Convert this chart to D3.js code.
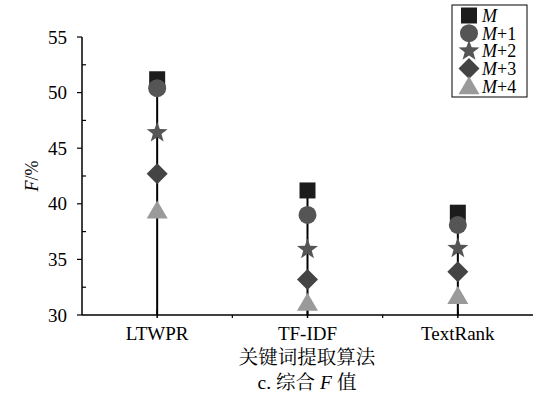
<!DOCTYPE html>
<html><head><meta charset="utf-8">
<script src="https://cdn.jsdelivr.net/npm/d3@7"></script>
<style>body{margin:0;background:#fff}svg{display:block}</style>
</head><body>
<svg id="c" width="534" height="398" font-family="'Liberation Serif','Times New Roman',serif"></svg>
<script>
const categories = ["LTWPR", "TF-IDF", "TextRank"];
const seriesNames = ["M", "M+1", "M+2", "M+3", "M+4"];
const sM  = [51.2, 41.2, 39.2];
const sM1 = [50.4, 39.0, 38.1];
const sM2 = [46.4, 35.9, 36.0];
const sM3 = [42.7, 33.2, 33.9];
const sM4 = [39.4, 31.1, 31.7];
const yTicks = [30, 35, 40, 45, 50, 55];
const series = [sM, sM1, sM2, sM3, sM4];
const colors = ["#1c1c1c", "#555555", "#555555", "#444444", "#9a9a9a"];
const CJK = "'Noto Serif CJK SC','Noto Sans CJK SC',sans-serif";

function starPath(ro, ri) {
  const pts = d3.range(10).map(i => {
    const a = -Math.PI / 2 + i * Math.PI / 5, r = i % 2 ? ri : ro;
    return [r * Math.cos(a), r * Math.sin(a)];
  });
  return "M" + pts.map(p => p.join(",")).join("L") + "Z";
}
const markers = [
  "M-8,-8H8V8H-8Z",
  d3.symbol().type(d3.symbolCircle).size(Math.PI * 81)(),
  starPath(11, 4.5),
  "M0,-10.5L10.5,0L0,10.5L-10.5,0Z",
  "M0,-10L10.5,8H-10.5Z"
];

const svg = d3.select("#c");
const L = 82, R = 533, T = 37, B = 315;
const x = d3.scaleBand().domain(categories).range([L, R]);
const y = d3.scaleLinear().domain([30, 55]).range([B, T]);

// y axis
svg.append("line").attr("x1", L).attr("x2", L).attr("y1", y(55)).attr("y2", B).attr("stroke", "#000").attr("stroke-width", 1.5);
d3.range(30, 55.01, 2.5).forEach(v => {
  const major = yTicks.includes(v);
  svg.append("line").attr("x1", major ? L - 5 : L).attr("x2", major ? L : L + 4)
    .attr("y1", y(v)).attr("y2", y(v)).attr("stroke", "#000").attr("stroke-width", 1.2);
});
yTicks.forEach(v => {
  svg.append("text").attr("x", L - 15).attr("y", y(v)).attr("dy", "0.35em")
    .attr("text-anchor", "end").attr("font-size", 19).text(v);
});
// x axis
svg.append("line").attr("x1", L).attr("x2", R).attr("y1", B).attr("y2", B).attr("stroke", "#000").attr("stroke-width", 1.5);
categories.forEach(c => {
  const cx = x(c) + x.bandwidth() / 2;
  svg.append("line").attr("x1", cx).attr("x2", cx).attr("y1", B - 5).attr("y2", B + 3).attr("stroke", "#000").attr("stroke-width", 1.5);
  svg.append("text").attr("x", cx).attr("y", B + 25).attr("text-anchor", "middle").attr("font-size", 19).text(c);
});
categories.slice(1).forEach(c => {
  svg.append("line").attr("x1", x(c)).attr("x2", x(c)).attr("y1", B).attr("y2", B + 3).attr("stroke", "#000").attr("stroke-width", 1.2);
});

// stems
categories.forEach((c, i) => {
  const cx = x(c) + x.bandwidth() / 2;
  const top = d3.max(series, s => s[i]);
  svg.append("line").attr("x1", cx).attr("x2", cx).attr("y1", y(30)).attr("y2", y(top)).attr("stroke", "#000").attr("stroke-width", 2);
});
// markers
series.forEach((s, k) => {
  svg.selectAll(null).data(s).enter().append("path")
    .attr("d", markers[k])
    .attr("transform", (d, i) => `translate(${x(categories[i]) + x.bandwidth() / 2},${y(d)})`)
    .attr("fill", colors[k]);
});

// labels
const yl = svg.append("text").attr("transform", "translate(38,176) rotate(-90)").attr("text-anchor", "middle").attr("font-size", 18);
yl.append("tspan").attr("font-style", "italic").text("F");
yl.append("tspan").text("/%");
svg.append("text").attr("x", 307).attr("y", 364).attr("text-anchor", "middle").attr("font-size", 19.5)
  .attr("font-family", CJK).text("关键词提取算法");
const cap = svg.append("text").attr("x", 307).attr("y", 389).attr("text-anchor", "middle").attr("font-size", 19.5);
cap.append("tspan").text("c. ");
cap.append("tspan").attr("font-family", CJK).text("综合 ");
cap.append("tspan").attr("font-style", "italic").text("F");
cap.append("tspan").attr("font-family", CJK).text(" 值");

// legend
const lg = svg.append("g");
lg.append("rect").attr("x", 452).attr("y", 5).attr("width", 75).attr("height", 92).attr("fill", "#fff").attr("stroke", "#000").attr("stroke-width", 1);
seriesNames.forEach((n, k) => {
  const ly = 15.5 + k * 17.7;
  lg.append("path").attr("d", markers[k]).attr("transform", `translate(469,${ly})`).attr("fill", colors[k]);
  const t = lg.append("text").attr("x", 482).attr("y", ly).attr("dy", "0.35em").attr("font-size", 18);
  t.append("tspan").attr("font-style", "italic").text("M");
  if (n.length > 1) t.append("tspan").text(n.slice(1));
});
</script>
</body></html>
